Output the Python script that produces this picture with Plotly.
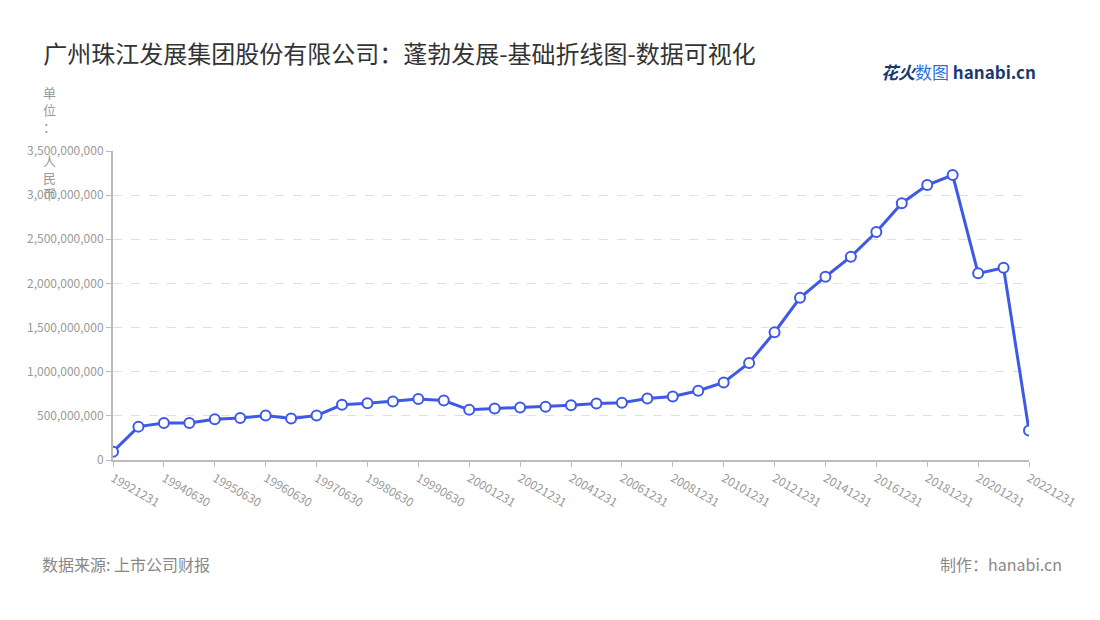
import plotly.graph_objects as go

periods = ["19921231", "19931231", "19940630", "19941231", "19950630", "19951231",
           "19960630", "19961231", "19970630", "19971231", "19980630", "19981231",
           "19990630", "19991231"] + [f"{y}1231" for y in range(2000, 2023)]
revenue = [0.094, 0.378, 0.42, 0.42, 0.462, 0.477, 0.503, 0.47, 0.503, 0.625,
           0.644, 0.663, 0.69, 0.674, 0.568, 0.583, 0.594, 0.602, 0.62, 0.64,
           0.648, 0.697, 0.72, 0.784, 0.878, 1.10, 1.447, 1.837, 2.076, 2.303,
           2.583, 2.909, 3.114, 3.227, 2.114, 2.178, 0.333]
revenue = [v * 1e9 for v in revenue]
shown = periods[::2]
y_ticks = [i * 5e8 for i in range(8)]

fig = go.Figure()
fig.add_trace(go.Scatter(
    x=periods, y=revenue, mode="lines+markers",
    line=dict(color="#3d59e6", width=3),
    marker=dict(size=10, color="white", line=dict(color="#3d59e6", width=2)),
))

grey = "#999999"
fig.update_layout(
    width=1100, height=620, plot_bgcolor="white", paper_bgcolor="white",
    margin=dict(l=105, r=79, t=143, b=168), showlegend=False,
    font=dict(family="Noto Sans CJK SC", color=grey, size=12),
    title=dict(text="广州珠江发展集团股份有限公司：蓬勃发展-基础折线图-数据可视化",
               x=0.032, xanchor="left", y=0.938, font=dict(size=24, color="#333333")),
    xaxis=dict(type="category", tickvals=shown, ticktext=shown, tickangle=30,
               showline=True, linecolor="#bbbbbb", linewidth=2, ticks="outside",
               tickcolor="#bbbbbb", showgrid=False, range=[0, len(periods) - 1],
               tickfont=dict(size=12, color=grey)),
    yaxis=dict(range=[0, 3.5e9], tickvals=y_ticks, tickformat=",d",
               showline=True, linecolor="#bbbbbb", linewidth=2, ticks="outside",
               tickcolor="#bbbbbb", gridcolor="#e0e0e0", griddash="dash",
               zeroline=False, tickfont=dict(size=12, color=grey)),
)
fig.add_annotation(text="单<br>位<br>：<br><br>人<br>民<br>币", xref="paper", yref="paper",
                   x=-0.069, y=1.225, xanchor="center", yanchor="top", align="center",
                   showarrow=False, font=dict(size=13, color=grey))
fig.add_annotation(text="数据来源: 上市公司财报", xref="paper", yref="paper",
                   x=-0.080, y=-0.382, xanchor="left", showarrow=False,
                   font=dict(size=16, color="#888888"))
fig.add_annotation(text="制作：hanabi.cn", xref="paper", yref="paper",
                   x=1.038, y=-0.382, xanchor="right", showarrow=False,
                   font=dict(size=16, color="#888888"))
fig.add_annotation(text="<b><i>花火</i></b><span style='color:#2f6fd6'>数图</span> <b>hanabi.cn</b>",
                   xref="paper", yref="paper", x=1.01, y=1.304, xanchor="right",
                   showarrow=False, font=dict(size=17, color="#1a3a6e"))
fig.write_html("out.html")
